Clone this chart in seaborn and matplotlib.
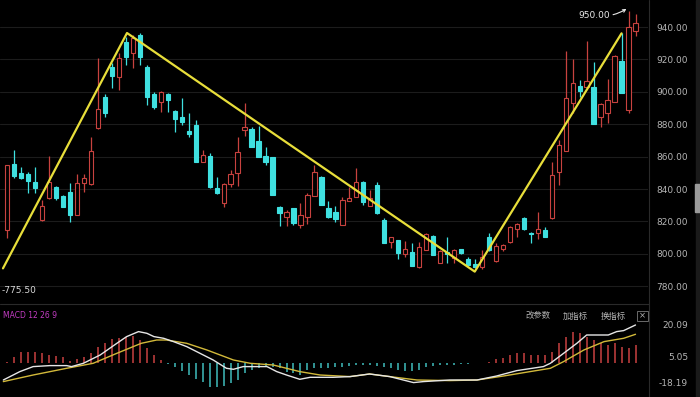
import numpy as np
import pandas as pd
import matplotlib
matplotlib.use("Agg")
import matplotlib.pyplot as plt
import seaborn as sns
from matplotlib.patches import Rectangle

# ---------------- data ----------------
opens = [814.7, 855.4, 850.1, 849.3, 844.5, 820.9, 834.2, 841.4, 835.7, 838.4,
         824.0, 843.5, 842.9, 877.4, 897.0, 915.5, 908.9, 930.9, 923.7, 935.1,
         915.5, 898.6, 893.9, 898.6, 888.3, 884.2, 876.0, 879.5, 856.9, 860.4,
         840.4, 831.1, 843.1, 850.1, 876.4, 876.8, 869.8, 860.4, 859.5, 829.1,
         822.9, 828.1, 817.8, 822.9, 835.7, 847.6, 828.1, 826.0, 817.8, 832.8,
         835.2, 844.5, 829.5, 842.5, 820.9, 807.5, 808.5, 799.9, 801.3, 791.6,
         802.3, 811.0, 794.5, 801.3, 797.2, 802.8, 796.6, 793.7, 792.1, 810.2,
         795.8, 802.8, 807.5, 815.1, 821.9, 813.0, 812.6, 814.7, 821.9, 850.7,
         863.7, 892.9, 903.6, 902.8, 902.8, 884.7, 886.7, 893.9, 919.2, 888.8,
         937.7]
highs = [855.0, 864.1, 853.8, 850.7, 853.8, 833.2, 860.4, 842.0, 836.2, 843.9,
         849.3, 849.3, 871.9, 920.7, 898.6, 917.6, 923.7, 934.0, 935.1, 936.1,
         916.5, 900.1, 900.7, 899.5, 888.6, 896.0, 887.1, 882.6, 864.1, 862.0,
         847.6, 843.5, 851.7, 872.3, 892.9, 878.5, 878.9, 866.1, 860.0, 829.4,
         827.0, 828.4, 831.1, 837.7, 854.8, 847.9, 832.8, 829.5, 835.2, 841.4,
         852.8, 844.8, 839.4, 844.5, 821.9, 810.6, 808.8, 808.1, 806.9, 807.5,
         812.6, 811.6, 802.3, 810.6, 802.8, 803.1, 797.8, 796.6, 802.4, 813.0,
         806.5, 806.0, 817.1, 819.2, 822.5, 813.2, 826.0, 816.7, 856.9, 870.3,
         925.4, 920.0, 907.3, 931.6, 918.6, 893.3, 907.7, 922.7, 936.1, 950.0,
         948.0]
lows = [809.5, 846.6, 846.0, 837.3, 837.3, 820.5, 834.0, 833.0, 828.7, 819.8,
        823.8, 838.4, 842.7, 877.0, 884.2, 902.1, 901.1, 916.5, 914.5, 916.5,
        891.9, 889.2, 887.7, 887.7, 875.4, 879.5, 872.3, 856.7, 856.7, 840.8,
        836.9, 829.1, 841.4, 841.8, 872.7, 865.8, 859.6, 854.8, 836.1, 817.2,
        817.2, 817.8, 815.7, 818.4, 835.5, 829.9, 821.9, 819.8, 817.6, 832.6,
        835.0, 830.1, 829.3, 824.8, 806.7, 803.4, 796.6, 797.8, 792.3, 791.4,
        802.1, 799.1, 794.3, 794.1, 794.1, 800.0, 792.5, 791.0, 790.5, 802.0,
        795.1, 802.0, 806.9, 810.2, 814.7, 806.9, 809.0, 810.2, 821.7, 842.5,
        863.5, 886.7, 897.0, 902.6, 879.9, 878.1, 881.0, 893.7, 899.3, 886.7,
        934.4]
closes = [854.8, 848.0, 846.6, 845.1, 840.4, 829.5, 844.5, 834.2, 829.1, 824.0,
          843.9, 846.6, 863.7, 889.2, 886.7, 909.8, 920.7, 921.7, 933.0, 921.7,
          896.6, 890.4, 900.1, 895.0, 883.0, 881.6, 874.0, 856.9, 861.0, 841.0,
          837.3, 843.1, 849.3, 863.0, 878.1, 866.1, 860.0, 856.9, 836.3, 825.0,
          826.0, 818.8, 824.0, 836.3, 850.7, 830.1, 822.9, 821.3, 833.2, 834.2,
          844.5, 832.2, 834.2, 825.0, 806.9, 810.2, 800.3, 802.8, 792.5, 804.4,
          812.2, 799.3, 801.9, 799.9, 802.3, 800.3, 793.1, 791.6, 798.0, 802.4,
          804.8, 805.4, 816.7, 818.4, 815.1, 812.2, 815.1, 810.6, 848.6, 867.2,
          896.0, 905.2, 900.7, 906.9, 880.1, 892.5, 894.9, 922.1, 899.5, 940.2,
          942.7]

price_ticks = [940, 920, 900, 880, 860, 840, 820, 800, 780]
price_tick_labels = ["940.00", "920.00", "900.00", "880.00", "860.00",
                     "840.00", "820.00", "800.00", "780.00"]

# trend lines (candle index, price)
trend_x = [-0.62, 17.15, 66.97, 88.0]
trend_y = [791.0, 936.3, 789.0, 936.1]

# MACD histogram per candle
macd_hist = [1.7, 6.7, 11.7, 11.7, 11.7, 10.0, 8.3, 7.3, 6.0, 2.7,
             4.0, 6.7, 10.0, 16.7, 20.7, 24.0, 25.0, 26.7, 27.3, 23.3,
             15.0, 8.3, 3.3, -0.7, -3.3, -7.3, -11.7, -16.0, -18.3, -23.3,
             -24.0, -22.7, -20.0, -16.7, -9.3, -6.7, -5.0, -3.3, -3.3, -5.0,
             -8.3, -10.0, -11.7, -6.7, -5.0, -5.0, -5.0, -4.0, -3.3, -2.7,
             -2.0, -2.0, -2.0, -2.7, -3.3, -5.0, -6.7, -7.3, -7.3, -6.7,
             -3.3, -2.7, -2.0, -1.7, -1.3, -0.7, -0.3, 0.3, 0.3, 1.0,
             4.0, 5.0, 8.3, 10.0, 10.0, 8.3, 8.3, 8.3, 11.7, 20.0,
             26.7, 31.7, 30.0, 26.7, 23.3, 20.0, 18.3, 20.0, 16.7, 15.0,
             18.3]

# DIF / DEA line vertices (candle number, value)
dif_x = [0.43, 2.8, 4.7, 7.1, 9.5, 10.2, 11.9, 14.3, 16.7, 18.1, 19.8, 21.0,
         22.0, 23.4, 24.8, 26.7, 28.6, 30.5, 32.4, 33.4, 34.8, 36.3, 38.2,
         39.6, 41.0, 42.9, 44.4, 47.7, 50.1, 52.9, 55.8, 59.2, 60.6, 64.4,
         68.3, 71.1, 74.0, 77.8, 78.8, 80.7, 82.6, 84.0, 87.1, 88.3, 89.3, 91.0]
dif_y = [-16.7, -8.3, -3.3, -2.3, -2.3, -3.3, 0.0, 8.3, 20.0, 26.7, 31.7, 30.0,
         26.7, 25.0, 21.7, 16.7, 10.0, 3.3, -5.0, -6.0, -3.3, -3.3, -3.3,
         -8.3, -11.7, -16.0, -14.0, -14.0, -13.3, -10.7, -13.3, -19.3, -18.3, -16.7,
         -16.7, -12.7, -7.3, -3.3, 0.0, 10.0, 20.0, 28.3, 28.3, 31.7, 32.7, 38.3]
dea_x = [0.43, 4.7, 9.5, 13.3, 16.7, 20.2, 22.4, 23.8, 26.7, 29.6, 33.4, 35.8,
         39.1, 42.9, 45.8, 50.1, 52.9, 55.8, 59.7, 64.4, 68.3, 72.1, 75.9, 78.8,
         80.7, 83.6, 86.5, 89.3, 91.0]
dea_y = [-18.3, -11.7, -5.0, 0.0, 10.0, 20.0, 23.3, 23.3, 20.0, 13.3, 3.3, 0.0,
         -1.7, -8.3, -11.7, -13.3, -10.7, -13.3, -16.7, -17.3, -16.7, -12.7, -8.3, -5.0,
         1.7, 13.3, 21.7, 25.0, 29.0]

macd_ticks = [38.3, 6.3, -18.7]
macd_tick_labels = ["20.09", "5.05", "-18.19"]

# ---------------- styling ----------------
sns.set_theme(style="dark")
plt.rcParams['font.family'] = ['DejaVu Sans', 'Noto Sans CJK SC']

BG = "#000000"
RED = "#c8423f"
CYAN = "#3fe0e0"
GRID = "#1c1c1c"
TXT = "#b4b4b4"

W, H = 700, 397
fig = plt.figure(figsize=(7.0, 3.97), dpi=100, facecolor=BG)

def fx(px):
    return px / W

def fy(px):
    return 1 - px / H

xlim = (-1.046, 91.79)
ax = fig.add_axes([0, fy(303), fx(648), 303 / H])
axm = fig.add_axes([0, 0, fx(648), (397 - 303) / H])
for a in (ax, axm):
    a.set_facecolor(BG)
    for s in a.spines.values():
        s.set_visible(False)
    a.set_xlim(*xlim)
    a.set_xticks([])
    a.grid(False)

df = pd.DataFrame({"open": opens, "high": highs, "low": lows, "close": closes})
df["x"] = np.arange(len(df))
df["up"] = df["close"] >= df["open"]

# grid lines
for p in price_ticks:
    ax.axhline(p, color=GRID, lw=0.8, zorder=0)

# candles
colors = np.where(df["up"], RED, CYAN)
ax.vlines(df["x"], df["low"], df["high"], colors=colors, lw=0.9, zorder=2)
bottoms = np.minimum(df["open"], df["close"])
heights = np.maximum(np.abs(df["close"] - df["open"]), 0.5)
face = np.where(df["up"], BG, CYAN)
ax.bar(df["x"], heights, bottom=bottoms, width=0.62, color=face,
       edgecolor=colors, linewidth=0.8, zorder=3)

# trend line
tl = pd.DataFrame({"x": trend_x, "y": trend_y})
sns.lineplot(data=tl, x="x", y="y", ax=ax, color="#e8de3a", lw=1.6,
             sort=False, estimator=None, zorder=4)

ax.set_ylim(769.63, 956.67)
ax.set_ylabel("")
ax.set_xlabel("")
ax.yaxis.tick_right()
ax.set_yticks(price_ticks)
ax.set_yticklabels(price_tick_labels)
ax.tick_params(axis="y", length=0, pad=28.8, labelsize=6.5, labelcolor=TXT)
for lbl in ax.get_yticklabels():
    lbl.set_ha("right")

# high / low annotations
ax.annotate("950.00", xy=(88.7, 951.2), xytext=(84.05, 947.4),
            color="#e8e8e8", fontsize=6.5, ha="center", va="center",
            arrowprops=dict(arrowstyle="->", color="#e8e8e8", lw=0.8,
                            connectionstyle="arc3,rad=0.2",
                            shrinkA=14, shrinkB=0, mutation_scale=5))
ax.text(fx(2), 777.6, "-775.50", transform=ax.get_yaxis_transform(),
        color="#d8d8d8", fontsize=6.5, ha="left", va="center")

# ---------------- MACD panel ----------------
hcol = np.where(np.array(macd_hist) >= 0, "#c84040", "#3fbcbc")
axm.vlines(df["x"], 0, macd_hist, colors=hcol, lw=1.1, zorder=2)
dd = pd.DataFrame({"x": np.array(dif_x) - 1, "y": dif_y})
de = pd.DataFrame({"x": np.array(dea_x) - 1, "y": dea_y})
sns.lineplot(data=dd, x="x", y="y", ax=axm, color="#e6e6e6", lw=1.0,
             sort=False, estimator=None, zorder=4)
sns.lineplot(data=de, x="x", y="y", ax=axm, color="#d2b93a", lw=1.0,
             sort=False, estimator=None, zorder=3)
axm.set_ylim(-33.7, 60.3)
axm.set_xlabel("")
axm.set_ylabel("")
axm.yaxis.tick_right()
axm.set_yticks(macd_ticks)
axm.set_yticklabels(macd_tick_labels)
axm.tick_params(axis="y", length=0, pad=28.8, labelsize=6.5, labelcolor=TXT)
for lbl in axm.get_yticklabels():
    lbl.set_ha("right")

# separators
fig.add_artist(plt.Line2D([fx(648.5), fx(648.5)], [0, 1], color="#2a2a2a", lw=0.8))
fig.add_artist(plt.Line2D([0, fx(648.5)], [fy(303.5), fy(303.5)], color="#2a2a2a", lw=0.8))
fig.add_artist(Rectangle((fx(696), 0), fx(4), 1, color="#1a1a1a"))
fig.add_artist(Rectangle((fx(695), fy(212)), fx(5), 28 / H, color="#9a9a9a"))

# MACD header texts
fig.text(fx(3), fy(316), "MACD 12 26 9", color="#c23cc2", fontsize=5.5,
         ha="left", va="center")
cjk = ["Noto Sans CJK SC", "DejaVu Sans"]
fig.text(fx(538), fy(316), "改参数", color=TXT, fontsize=6, family=cjk,
         ha="center", va="center")
fig.text(fx(575), fy(316), "加指标", color=TXT, fontsize=6, family=cjk,
         ha="center", va="center")
fig.text(fx(613), fy(316), "换指标", color=TXT, fontsize=6, family=cjk,
         ha="center", va="center")
fig.add_artist(Rectangle((fx(637), fy(321)), fx(11), 10 / H, fill=False,
                         edgecolor="#6a6a6a", lw=0.7))
fig.text(fx(642.5), fy(316), "×", color=TXT, fontsize=6, ha="center", va="center")

fig.savefig("out.png", dpi=100, facecolor=BG)
